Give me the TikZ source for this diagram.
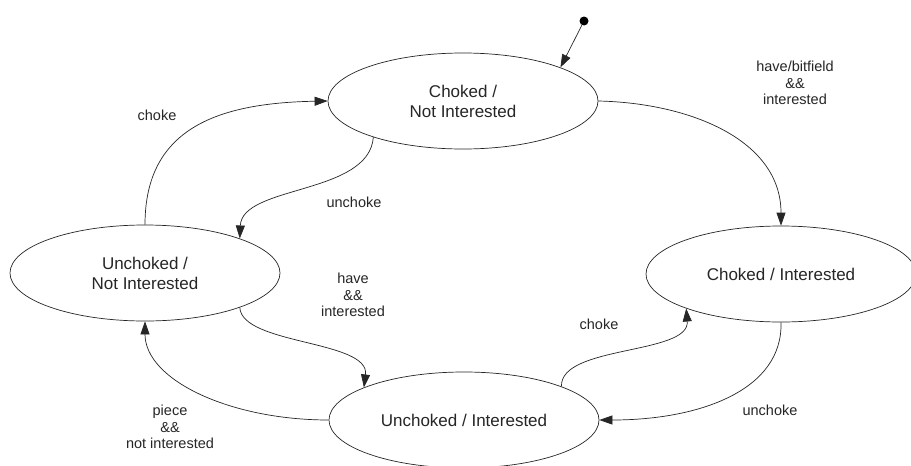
\documentclass[tikz,border=0pt]{standalone}
\usepackage{fontspec}
\setmainfont{Liberation Sans}
\usetikzlibrary{shapes.geometric,arrows.meta}
\begin{document}
\begin{tikzpicture}[x=1pt,y=-1pt,
  state/.style={draw=black!85, line width=0.7pt, ellipse, inner sep=0pt,
    minimum width=270pt, minimum height=96pt, align=center,
    font=\fontsize{17}{20}\selectfont, text=black!85},
  lbl/.style={align=center, font=\fontsize{14.5}{16.5}\selectfont, text=black!85, inner sep=0pt},
  conn/.style={draw=black!85, line width=0.7pt, -{Triangle[length=13pt,width=9pt]}}]
\useasboundingbox (0,0) rectangle (911,466);
\clip (0,0) rectangle (911,466);
\fill[white] (0,0) rectangle (911,466);
\node[state] (cni) at (463,101) {Choked /\\Not Interested};
\node[state] (uni) at (145,273) {Unchoked /\\Not Interested};
\node[state] (ui) at (464,420) {Unchoked / Interested};
\node[state] (ci) at (781,274) {Choked / Interested};
\node[circle, fill=black, inner sep=0pt, minimum size=9pt] (init) at (584,21) {};
\draw[conn] (init) -- (cni.19);
\draw[conn] (uni.north) .. controls (145,130) and (215,103) .. (cni.west);
\draw[conn] (cni.202) .. controls (369,195) and (242,185) .. (uni.20);
\draw[conn] (cni.east) .. controls (690,103) and (781,140) .. (ci.north);
\draw[conn] (uni.340) .. controls (242,345) and (370,340) .. (ui.162);
\draw[conn] (ui.19) .. controls (560,345) and (690,355) .. (ci.200);
\draw[conn] (ci.south) .. controls (783,390) and (700,420) .. (ui.east);
\draw[conn] (ui.west) .. controls (230,420) and (145,380) .. (uni.south);
\node[lbl] (l1) at (157,115) {choke};
\node[lbl] (l2) at (354,202) {unchoke};
\node[lbl] (l3) at (795,83) {have/bitfield\\\&\&\\interested};
\node[lbl] (l4) at (353,295) {have\\\&\&\\interested};
\node[lbl] (l5) at (599,324) {choke};
\node[lbl] (l6) at (770,410) {unchoke};
\node[lbl] (l7) at (170,427) {piece\\\&\&\\not interested};
\end{tikzpicture}
\end{document}
